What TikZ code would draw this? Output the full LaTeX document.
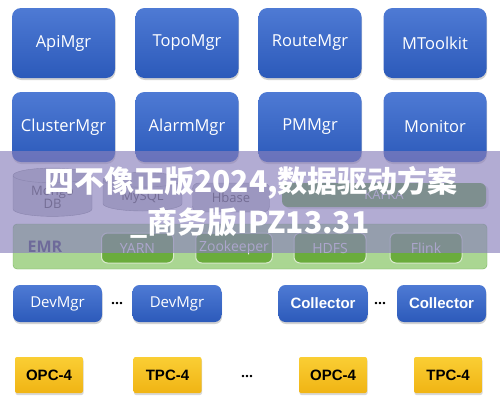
\documentclass[tikz,border=0pt]{standalone}
\usepackage{fontspec}
\setmainfont{Open Sans}
\newfontfamily\cjkfont{Noto Sans CJK SC}
\newfontfamily\helvfont{Liberation Sans}
\usetikzlibrary{shapes.geometric,shadows}
\definecolor{boxtop}{RGB}{78,122,212}
\definecolor{boxbot}{RGB}{44,90,186}
\definecolor{yeltop}{RGB}{250,206,52}
\definecolor{yelbot}{RGB}{240,180,20}
\definecolor{emrgreen}{RGB}{170,214,146}
\definecolor{emredge}{RGB}{120,180,95}
\definecolor{svcgreen}{RGB}{106,172,60}
\definecolor{dbgray}{RGB}{190,194,200}
\definecolor{dbedge}{RGB}{140,146,150}
\definecolor{bandcol}{RGB}{138,128,188}
\tikzset{
  bluebox/.style={rounded corners=9pt,top color=boxtop,bottom color=boxbot,
    text=white,drop shadow={opacity=.35,shadow xshift=.5pt,shadow yshift=-2pt}},
  mgrbox/.style={bluebox,minimum width=103pt,minimum height=70pt,
    font=\fontsize{16.5}{19}\selectfont},
  devbox/.style={bluebox,rounded corners=7pt,minimum width=89pt,minimum height=37pt,
    font=\fontsize{15}{18}\selectfont},
  colbox/.style={devbox,font=\helvfont\bfseries\fontsize{15}{18}\selectfont},
  pcbox/.style={rounded corners=2pt,top color=yeltop,bottom color=yelbot,
    minimum width=68pt,minimum height=36pt,
    drop shadow={opacity=.3,shadow xshift=.5pt,shadow yshift=-2pt},
    font=\helvfont\bfseries\fontsize{15}{18}\selectfont},
  dbcyl/.style={cylinder,shape border rotate=90,aspect=.3,draw=dbedge,fill=dbgray,
    minimum width=79pt,minimum height=35pt,text=black!70,align=center,
    font=\fontsize{13}{13}\selectfont},
  svcbox/.style={rounded corners=6pt,fill=svcgreen,draw=white!75!svcgreen,line width=1pt,
    minimum width=72pt,minimum height=30pt,text=white!85!gray,
    font=\fontsize{14}{16}\selectfont},
  dots/.style={font=\bfseries\fontsize{14}{14}\selectfont},
  wmark/.style={text=white,font=\cjkfont\bfseries\fontsize{30}{32}\selectfont}
}
\begin{document}
\begin{tikzpicture}[x=1pt,y=-1pt]
  \useasboundingbox (0,0) rectangle (500,405);
  \fill[white] (0,0) rectangle (500,405);
  % manager row 1
  \node[mgrbox] (api) at (63.5,43) {ApiMgr};
  \node[mgrbox] (topo) at (187,43) {TopoMgr};
  \node[mgrbox] (route) at (310,43) {RouteMgr};
  \node[mgrbox] (mtool) at (435,43) {MToolkit};
  % manager row 2
  \node[mgrbox] (cluster) at (63.5,127) {ClusterMgr};
  \node[mgrbox] (alarm) at (187,127) {AlarmMgr};
  \node[mgrbox] (pm) at (310,127) {PMMgr};
  \node[mgrbox] (monitor) at (435,127) {Monitor};
  % storage
  \node[dbcyl] (mongo) at (52.5,197.5) {Mongo\\DB};
  \node[dbcyl] (mysql) at (142.5,197) {MySQL};
  \node[rounded corners=6pt,draw=dbedge,fill=dbgray,minimum width=77pt,minimum height=29pt,
    text=black!70,font=\fontsize{13}{13}\selectfont] (hbase) at (231,197.5) {Hbase};
  \node[rounded corners=6pt,fill=svcgreen,minimum width=204pt,minimum height=24pt,
    text=white!85!gray,font=\fontsize{13}{13}\selectfont,
    drop shadow={opacity=.25,shadow yshift=-2pt}] (kafka) at (384,195) {KAFKA};
  % EMR
  \draw[rounded corners=4pt,fill=emrgreen,draw=emredge] (13,224) rectangle (487,269);
  \node[text={rgb,255:red,60;green,66;blue,92},font=\bfseries\fontsize{16}{16}\selectfont]
    (emr) at (45,247) {EMR};
  \node[svcbox] (yarn) at (137.5,248) {YARN};
  \node[svcbox] (zk) at (234,248) {Zookeeper};
  \node[svcbox] (hdfs) at (330,248) {HDFS};
  \node[svcbox] (flink) at (426,248) {Flink};
  % device managers and collectors
  \node[devbox] (dev1) at (57.5,303.5) {DevMgr};
  \node[dots] (d1) at (117,304) {\textbf{…}};
  \node[devbox] (dev2) at (177,303.5) {DevMgr};
  \node[colbox] (col1) at (323,303.5) {Collector};
  \node[dots] (d2) at (380,304) {\textbf{…}};
  \node[colbox] (col2) at (441.5,303.5) {Collector};
  % PCs
  \node[pcbox] (opc1) at (49,375) {OPC-4};
  \node[pcbox] (tpc1) at (167.5,375) {TPC-4};
  \node[dots] (d3) at (247,377) {\textbf{…}};
  \node[pcbox] (opc2) at (333,375) {OPC-4};
  \node[pcbox] (tpc2) at (448,375) {TPC-4};
  % overlay band
  \fill[bandcol,opacity=.65] (0,151) rectangle (500,253);
  \node[wmark] (wm1) at (251,183) {四不像正版2024,数据驱动方案};
  \node[wmark] (wm2) at (250,223) {\_商务版IPZ13.31};
\end{tikzpicture}
\end{document}
